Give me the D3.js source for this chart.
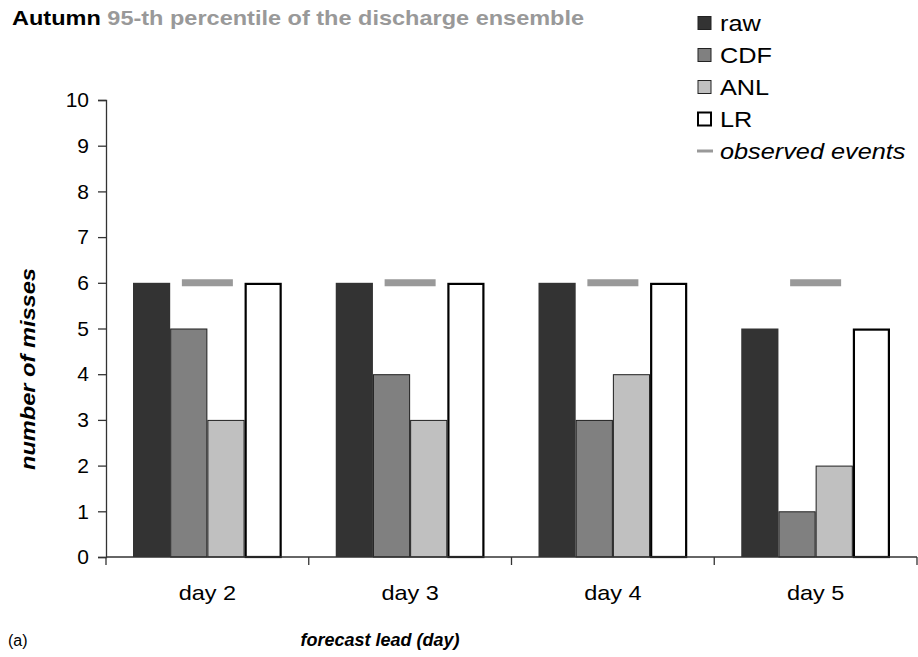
<!DOCTYPE html>
<html>
<head>
<meta charset="utf-8">
<script src="https://cdn.jsdelivr.net/npm/d3@7"></script>
<style>
  html, body { margin: 0; padding: 0; background: #fff; }
  svg { display: block; font-family: "Liberation Sans", Arial, sans-serif; }
</style>
</head>
<body>
<svg id="chart" width="918" height="657"></svg>
<script>
// Number of missed events per forecast lead time, by post-processing method
const days = ["day 2", "day 3", "day 4", "day 5"];
const seriesNames = ["raw", "CDF", "ANL", "LR"];
const rawValues = [6, 6, 6, 5];
const cdfValues = [5, 4, 3, 1];
const anlValues = [3, 3, 4, 2];
const lrValues = [6, 6, 6, 5];
const observedEvents = [6, 6, 6, 6];
const yTicks = [0, 1, 2, 3, 4, 5, 6, 7, 8, 9, 10];

const seriesValues = [rawValues, cdfValues, anlValues, lrValues];
const fills = { raw: "#333333", CDF: "#808080", ANL: "#c0c0c0", LR: "#ffffff" };
const strokes = { raw: "#333333", CDF: "#1e1e1e", ANL: "#1e1e1e", LR: "#000000" };
const strokeW = { raw: 0, CDF: 1, ANL: 1, LR: 2.2 };

// Text in this chart is set slightly wide
const WIDE = 1.12;

const svg = d3.select("#chart");

const x = d3.scaleBand().domain(days).range([106, 917]).padding(0);
const inner = d3.scaleBand().domain(seriesNames)
  .range([27, x.bandwidth() - 27]).padding(0);
const y = d3.scaleLinear().domain([0, 10]).range([557, 100]);

// Bars
const rows = days.map((d, i) => ({
  day: d,
  values: seriesNames.map((s, j) => ({ series: s, value: seriesValues[j][i] }))
}));

const groups = svg.append("g").selectAll("g")
  .data(rows).join("g")
  .attr("transform", d => `translate(${x(d.day)},0)`);

groups.selectAll("rect")
  .data(d => d.values).join("rect")
  .attr("x", d => inner(d.series) + strokeW[d.series] / 2)
  .attr("y", d => y(d.value) + strokeW[d.series] / 2)
  .attr("width", d => inner.bandwidth() - strokeW[d.series])
  .attr("height", d => y(0) - y(d.value) - strokeW[d.series] / 2)
  .attr("fill", d => fills[d.series])
  .attr("stroke", d => strokeW[d.series] ? strokes[d.series] : "none")
  .attr("stroke-width", d => strokeW[d.series]);

// Observed events markers
svg.append("g").selectAll("line")
  .data(days.map((d, i) => ({ day: d, value: observedEvents[i] })))
  .join("line")
  .attr("x1", d => x(d.day) + x.bandwidth() / 2 - 25.5)
  .attr("x2", d => x(d.day) + x.bandwidth() / 2 + 25.5)
  .attr("y1", d => y(d.value))
  .attr("y2", d => y(d.value))
  .attr("stroke", "#999999")
  .attr("stroke-width", 7);

// Y axis
const yAxis = svg.append("g")
  .attr("transform", "translate(106,0)")
  .call(d3.axisLeft(y).tickValues(yTicks).tickSize(8).tickPadding(9).tickFormat(d3.format("d")));
yAxis.select(".domain").attr("stroke", "#333").attr("stroke-width", 1.3);
yAxis.selectAll(".tick line").attr("stroke", "#333").attr("stroke-width", 1.3);
yAxis.selectAll(".tick text")
  .attr("font-size", 21).attr("fill", "#000")
  .attr("font-family", "Liberation Sans, Arial, sans-serif");

// X axis: baseline with tick marks between categories
const xAxis = svg.append("g");
xAxis.append("line")
  .attr("x1", x.range()[0]).attr("x2", x.range()[1])
  .attr("y1", y(0)).attr("y2", y(0))
  .attr("stroke", "#333").attr("stroke-width", 1.3);
const boundaries = days.map(d => x(d)).concat([x(days[days.length - 1]) + x.bandwidth()]);
xAxis.selectAll("line.tk")
  .data(boundaries).join("line").attr("class", "tk")
  .attr("x1", d => d).attr("x2", d => d)
  .attr("y1", y(0)).attr("y2", y(0) + 8)
  .attr("stroke", "#333").attr("stroke-width", 1.3);
xAxis.selectAll("text")
  .data(days).join("text")
  .attr("transform", d => `translate(${x(d) + x.bandwidth() / 2},600) scale(${WIDE},1)`)
  .attr("text-anchor", "middle")
  .attr("font-size", 21)
  .text(d => d);

// Axis titles
svg.append("text")
  .attr("x", 380).attr("y", 646)
  .attr("text-anchor", "middle")
  .attr("font-size", 18).attr("font-weight", "bold").attr("font-style", "italic")
  .text("forecast lead (day)");

svg.append("text")
  .attr("transform", "translate(35,369) rotate(-90)")
  .attr("text-anchor", "middle")
  .attr("font-size", 20).attr("font-weight", "bold").attr("font-style", "italic")
  .attr("textLength", 202).attr("lengthAdjust", "spacingAndGlyphs")
  .text("number of misses");

svg.append("text")
  .attr("x", 8).attr("y", 646)
  .attr("font-size", 16)
  .text("(a)");

// Title
const title = svg.append("text")
  .attr("transform", `translate(12,25) scale(${WIDE},1)`)
  .attr("font-size", 21).attr("font-weight", "bold");
title.append("tspan").attr("fill", "#000").text("Autumn ");
title.append("tspan").attr("fill", "#999999").text("95-th percentile of the discharge ensemble");

// Legend
const legendItems = seriesNames.concat(["observed events"]);
const legend = svg.append("g").selectAll("g")
  .data(legendItems).join("g")
  .attr("transform", (d, i) => `translate(697,${23 + i * 32})`);

legend.filter(d => d !== "observed events").append("rect")
  .attr("x", 1).attr("y", -6.5)
  .attr("width", 13).attr("height", 13)
  .attr("fill", d => fills[d])
  .attr("stroke", d => d === "LR" ? "#000" : "#222")
  .attr("stroke-width", d => d === "LR" ? 2 : 1);

legend.filter(d => d === "observed events").append("line")
  .attr("x1", 0).attr("x2", 16).attr("y1", 0).attr("y2", 0)
  .attr("stroke", "#999999").attr("stroke-width", 3);

legend.append("text")
  .attr("transform", `translate(23,8) scale(1.15,1)`)
  .attr("font-size", 22)
  .attr("font-style", d => d === "observed events" ? "italic" : "normal")
  .text(d => d);
</script>
</body>
</html>
